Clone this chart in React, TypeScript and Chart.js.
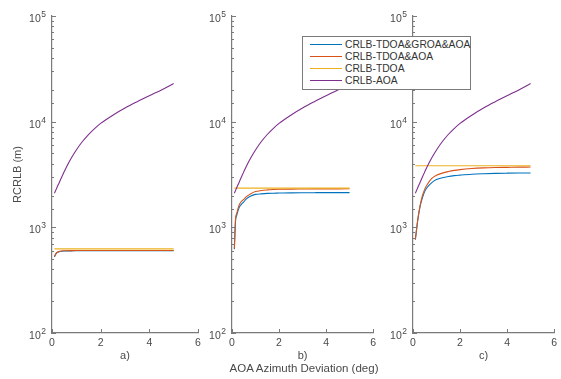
import React, { useEffect, useRef } from 'react';
import { Chart, registerables } from 'chart.js';

Chart.register(...registerables);

// ---------- data ----------
const xValues = [0.1, 0.15, 0.2, 0.3, 0.4, 0.5, 0.6, 0.8, 1.0, 1.25, 1.5, 1.75, 2.0, 2.5, 3.0, 3.5, 4.0, 4.5, 5.0];

const seriesNames = ['CRLB-TDOA&GROA&AOA', 'CRLB-TDOA&AOA', 'CRLB-TDOA', 'CRLB-AOA'];
const seriesColors = ['#0072BD', '#D95319', '#EDB120', '#7E2F8E'];

// CRLB-AOA (same in all three panels)
const aoa = [2100, 2230, 2370, 2660, 2990, 3350, 3740, 4550, 5400, 6490, 7560, 8610, 9630, 11520, 13450, 15440, 17590, 19970, 22930];

// panel a)
const aGroa = [525, 555, 573, 588, 594, 597, 598, 599, 600, 600, 600, 600, 600, 600, 600, 600, 600, 600, 600];
const aTdoaAoa = [530, 560, 578, 592, 598, 600, 601, 602, 603, 603, 603, 603, 603, 603, 603, 603, 603, 603, 603];
const aTdoa = [625, 625, 625, 625, 625, 625, 625, 625, 625, 625, 625, 625, 625, 625, 625, 625, 625, 625, 625];

// panel b)
const bGroa = [620, 1150, 1300, 1530, 1650, 1740, 1850, 1980, 2050, 2075, 2095, 2105, 2110, 2120, 2125, 2128, 2130, 2130, 2132];
const bTdoaAoa = [630, 1200, 1350, 1620, 1760, 1840, 1940, 2080, 2180, 2230, 2260, 2280, 2290, 2300, 2305, 2310, 2312, 2314, 2315];
const bTdoa = [2350, 2350, 2350, 2350, 2350, 2350, 2350, 2350, 2350, 2350, 2350, 2350, 2350, 2350, 2350, 2350, 2350, 2350, 2350];

// panel c)
const cGroa = [765, 945, 1160, 1570, 1900, 2190, 2380, 2650, 2830, 2950, 3030, 3085, 3120, 3180, 3215, 3240, 3255, 3265, 3270];
const cTdoaAoa = [770, 950, 1170, 1600, 1990, 2300, 2530, 2900, 3110, 3260, 3370, 3460, 3520, 3600, 3650, 3680, 3695, 3710, 3720];
const cTdoa = [3830, 3830, 3830, 3830, 3830, 3830, 3830, 3830, 3830, 3830, 3830, 3830, 3830, 3830, 3830, 3830, 3830, 3830, 3830];

const xTickStep = 2;
const yMin = 100;
const yMax = 100000;

const subLabels = ['a)', 'b)', 'c)'];
const yTitle = 'RCRLB (m)';
const xTitle = 'AOA Azimuth Deviation (deg)';

// ---------- style / layout ----------
const FONT = "'Liberation Sans', Arial, Helvetica, sans-serif";
const AXIS = '#7a7a7a';
const TEXT = '#4a4a4a';
const H = 379;
const PLOT_TOP = 16;
const PLOT_BOTTOM = 333;

const panels = [
  { canvasLeft: 0, canvasWidth: 205, plotLeft: 52, plotRight: 198, data: [aGroa, aTdoaAoa, aTdoa, aoa], yTitle: true },
  { canvasLeft: 180, canvasWidth: 200, plotLeft: 232, plotRight: 375, data: [bGroa, bTdoaAoa, bTdoa, aoa], yTitle: false },
  { canvasLeft: 361, canvasWidth: 200, plotLeft: 413, plotRight: 558, data: [cGroa, cTdoaAoa, cTdoa, aoa], yTitle: false },
];

const isPow10 = (v: number) => {
  const l = Math.log10(v);
  return Math.abs(l - Math.round(l)) < 1e-9;
};

const tickPlugin = {
  id: 'matlabTicks',
  afterDraw(chart: any) {
    const { ctx, chartArea } = chart;
    const x = chart.scales.x;
    const y = chart.scales.y;
    ctx.save();
    ctx.strokeStyle = AXIS;
    ctx.lineWidth = 1;
    ctx.beginPath();
    x.ticks.forEach((t: any) => {
      const px = Math.round(x.getPixelForValue(t.value)) + 0.5;
      ctx.moveTo(px, chartArea.bottom);
      ctx.lineTo(px, chartArea.bottom - 4);
    });
    y.ticks.forEach((t: any) => {
      const py = Math.round(y.getPixelForValue(t.value)) + 0.5;
      const len = isPow10(t.value) ? 4 : 2;
      ctx.moveTo(chartArea.left, py);
      ctx.lineTo(chartArea.left + len, py);
    });
    ctx.stroke();
    // power-of-ten labels: "10" with a raised exponent
    ctx.fillStyle = TEXT;
    ctx.textBaseline = 'middle';
    y.ticks.forEach((t: any) => {
      if (!isPow10(t.value)) return;
      const py = y.getPixelForValue(t.value);
      const exp = String(Math.round(Math.log10(t.value)));
      ctx.font = `8.5px ${FONT}`;
      const ew = ctx.measureText(exp).width;
      const ex = chartArea.left - 6 - ew;
      ctx.textAlign = 'left';
      ctx.fillText(exp, ex, py - 1.5);
      ctx.font = `10.5px ${FONT}`;
      ctx.textAlign = 'right';
      ctx.fillText('10', ex - 0.5, py + 3);
    });
    ctx.restore();
  },
};

function Panel({ idx }: { idx: number }) {
  const ref = useRef<HTMLCanvasElement | null>(null);
  const p = panels[idx];
  useEffect(() => {
    if (!ref.current) return;
    const yAxisWidth = p.plotLeft - p.canvasLeft;
    const padRight = p.canvasLeft + p.canvasWidth - p.plotRight;
    const order = [3, 2, 1, 0];
    const chart = new Chart(ref.current, {
      type: 'line',
      data: {
        datasets: p.data.map((vals, i) => ({
          label: seriesNames[i],
          data: xValues.map((xv, j) => ({ x: xv, y: vals[j] })),
          borderColor: seriesColors[i],
          backgroundColor: seriesColors[i],
          borderWidth: 1.1,
          pointRadius: 0,
          fill: false,
          cubicInterpolationMode: 'monotone',
          order: order[i],
        })),
      },
      options: {
        responsive: false,
        animation: false,
        layout: { padding: { left: 0, right: padRight, top: PLOT_TOP, bottom: 0 } },
        plugins: { legend: { display: false }, tooltip: { enabled: false } },
        scales: {
          x: {
            type: 'linear',
            min: 0,
            max: 6,
            grid: { display: false, drawTicks: false },
            border: { display: true, color: AXIS, width: 1.2 },
            ticks: { stepSize: xTickStep, padding: 4, color: TEXT, font: { family: FONT, size: 10.5 }, maxRotation: 0 },
            title: { display: true, text: subLabels[idx], color: TEXT, font: { family: FONT, size: 11 }, padding: { top: 0, bottom: 16.5 } },
            afterFit: (s: any) => { s.height = H - PLOT_BOTTOM; },
          },
          y: {
            type: 'logarithmic',
            min: yMin,
            max: yMax,
            grid: { display: false, drawTicks: false },
            border: { display: true, color: AXIS, width: 1.2 },
            ticks: {
              autoSkip: false,
              padding: 5,
              color: TEXT,
              font: { family: FONT, size: 10 },
              callback: () => '',
            },
            title: { display: p.yTitle, text: yTitle, color: TEXT, font: { family: FONT, size: 11 }, padding: { top: 11, bottom: 0 } },
            afterFit: (s: any) => { s.width = yAxisWidth; },
          },
        },
      } as any,
      plugins: [tickPlugin],
    });
    return () => chart.destroy();
  }, [idx]);
  return (
    <canvas
      ref={ref}
      width={p.canvasWidth}
      height={H}
      style={{ position: 'absolute', left: p.canvasLeft, top: 0, width: p.canvasWidth, height: H }}
    />
  );
}

export default function App() {
  return (
    <div style={{ position: 'fixed', left: 0, top: 0, width: 561, height: H, background: '#fff', overflow: 'hidden' }}>
      {panels.map((_, i) => (
        <Panel key={i} idx={i} />
      ))}
      <div
        style={{
          position: 'absolute', left: 154, width: 300, top: 362, lineHeight: '13px', textAlign: 'center',
          fontFamily: FONT, fontSize: 11.5, color: TEXT, whiteSpace: 'nowrap',
        }}
      >
        {xTitle}
      </div>
      <div
        style={{
          position: 'absolute', left: 302, top: 36, width: 169, height: 54, boxSizing: 'border-box',
          border: `1px solid ${AXIS}`, background: '#fff', zIndex: 2,
        }}
      >
        {seriesNames.map((name, i) => (
          <div key={name} style={{ position: 'absolute', left: 0, top: 1.8 + i * 11.9, height: 11.9, width: '100%' }}>
            <div style={{ position: 'absolute', left: 7, top: 5.5, width: 32, height: 0, borderTop: `1.2px solid ${seriesColors[i]}` }} />
            <div
              style={{
                position: 'absolute', left: 42, top: 0, lineHeight: '11.9px', fontFamily: FONT, fontSize: 10.3,
                color: '#333', whiteSpace: 'nowrap',
              }}
            >
              {name}
            </div>
          </div>
        ))}
      </div>
    </div>
  );
}
